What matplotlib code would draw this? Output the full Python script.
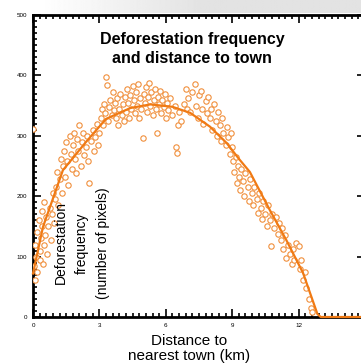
import numpy as np
import matplotlib
matplotlib.use("Agg")
import matplotlib.pyplot as plt
from matplotlib.ticker import MultipleLocator

# ---- data ----
pts_x = [0.0, 0.05, 0.1, 0.1, 0.15, 0.2, 0.2, 0.25, 0.3, 0.3, 0.35, 0.4, 0.4, 0.45, 0.5, 0.5, 0.55, 0.6, 0.65, 0.7,
         0.75, 0.8, 0.85, 0.9, 0.95, 1.0,
         1.05, 1.1, 1.15, 1.2, 1.25, 1.3, 1.35, 1.4, 1.45, 1.5, 1.55, 1.6, 1.65, 1.7, 1.75, 1.8, 1.85, 1.9, 1.95, 2.0,
         2.05, 2.1, 2.15, 2.2, 2.25, 2.3, 2.4, 2.45, 2.5, 2.55, 2.6, 2.7, 2.75, 2.8, 2.9, 2.95, 3.0,
         3.05, 3.1, 3.15, 3.2, 3.25, 3.3, 3.35, 3.4, 3.45, 3.5, 3.55, 3.6, 3.65, 3.7, 3.75, 3.8, 3.85, 3.9, 3.95, 4.0,
         4.05, 4.1, 4.15, 4.2, 4.25, 4.3, 4.35, 4.4, 4.45, 4.5, 4.55, 4.6, 4.65, 4.7, 4.75, 4.8, 4.85, 4.9, 4.95, 5.0,
         5.05, 5.1, 5.15, 5.2, 5.25, 5.3, 5.35, 5.4, 5.45, 5.5, 5.55, 5.6, 5.65, 5.7, 5.75, 5.8, 5.85, 5.9, 5.95, 6.0,
         6.05, 6.1, 6.2, 6.3, 6.4, 6.45, 6.5, 6.55, 6.6, 6.7, 6.8, 6.9, 6.95,
         7.0, 7.1, 7.2, 7.3, 7.35, 7.45, 7.5, 7.6, 7.65, 7.7, 7.8, 7.85, 7.9, 8.0, 8.05, 8.1, 8.2, 8.25, 8.3, 8.35,
         8.45, 8.5, 8.55, 8.6, 8.7, 8.75, 8.8, 8.9, 8.95, 9.0,
         9.05, 9.1, 9.15, 9.2, 9.25, 9.3, 9.35, 9.4, 9.5, 9.55, 9.6, 9.7, 9.75, 9.8, 9.9, 9.95, 10.0, 10.1, 10.15,
         10.2, 10.3, 10.35, 10.4, 10.5, 10.55, 10.6, 10.7, 10.75, 10.8, 10.9, 11.0,
         11.05, 11.1, 11.2, 11.25, 11.3, 11.4, 11.45, 11.5, 11.6, 11.7, 11.75, 11.8, 11.9, 12.0, 12.05, 12.1, 12.2,
         12.3, 12.35, 12.45, 12.55, 12.6]
pts_y = [312, 85, 120, 62, 100, 140, 75, 160, 110, 95, 130, 175, 150, 88, 120, 190, 135, 165, 105, 150,
         180, 128, 170, 205, 155, 195,
         215, 240, 185, 228, 262, 205, 250, 275, 232, 290, 258, 218, 300, 270, 245, 285, 305, 262, 238, 295,
         275, 318, 250, 290, 305, 268, 282, 300, 258, 222, 292, 310, 275, 298, 320, 285, 305,
         330, 345, 318, 352, 338, 398, 384, 325, 348, 360, 335, 372, 342, 355, 330, 362, 318, 345, 370, 335,
         352, 325, 364, 340, 378, 355, 330, 368, 345, 383, 360, 338, 372, 350, 385, 330, 362, 345, 296, 370,
         355, 380, 340, 365, 388, 350, 372, 335, 360, 378, 345, 305, 365, 352, 375, 338, 360, 348, 370, 330,
         355, 342, 362, 335, 350, 282, 272, 318, 340, 325, 352, 378, 345,
         362, 340, 372, 385, 350, 330, 368, 375, 345, 320, 358, 338, 365, 330, 345, 310, 352, 325, 300, 340,
         318, 292, 330, 305, 285, 315, 298, 270, 305, 282,
         258, 240, 265, 222, 250, 232, 210, 245, 225, 200, 238, 215, 192, 228, 205, 185, 215, 195, 172,
         205, 180, 162, 192, 170, 150, 185, 160, 118, 170, 148, 165,
         138, 155, 128, 148, 112, 135, 98, 120, 105, 88, 112, 95, 122, 118, 80, 95, 62,
         75, 48, 30, 15, 8]

fit_x = [0.0, 0.45, 1.35, 2.4, 3.3, 4.4, 5.3, 6.3, 7.1, 8.0, 8.75, 9.3, 9.8, 10.7, 11.45, 12.2, 12.85, 13.0, 15.0]
fit_y = [72, 149, 243, 290, 328, 346, 352, 348, 338, 315, 288, 262, 240, 177, 127, 73, 5, 0, 0]

x_ticks = [0, 3, 6, 9, 12]
y_ticks = [0, 100, 200, 300, 400, 500]

title = "Deforestation frequency\nand distance to town"
xlabel = "Distance to\nnearest town (km)"
ylabel = "Deforestation\nfrequency\n(number of pixels)"

# ---- figure ----
W, H = 361, 364
fig = plt.figure(figsize=(W / 100, H / 100), dpi=100, facecolor="white")

# gray gradient strip along the top
bg = fig.add_axes([0, 1 - 13 / H, 1, 13 / H])
grad = np.clip((np.linspace(0, W, 400) - 40) / 160, 0, 1)
img = 1 - 0.11 * grad
bg.imshow(np.tile(img, (10, 1)), cmap="gray", vmin=0, vmax=1, aspect="auto", extent=[0, 1, 0, 1])
bg.axis("off")

left, bottom = 33 / W, (H - 317) / H
ax = fig.add_axes([left, bottom, 332 / W, (317 - 15) / H])
ax.set_xlim(0, 15)
ax.set_ylim(0, 500)

orange = "#f07a14"
ax.scatter(pts_x, pts_y, s=15, facecolors="white", edgecolors="#f08f3c", linewidths=0.8, zorder=3, clip_on=True)
ax.plot(fit_x, fit_y, color=orange, lw=1.6, zorder=4, clip_on=False)

ax.set_xticks(x_ticks)
ax.set_yticks(y_ticks)
ax.xaxis.set_minor_locator(MultipleLocator(0.3))
ax.yaxis.set_minor_locator(MultipleLocator(10))
ax.tick_params(which="both", direction="in", top=True, right=True, width=1.2, colors="black")
ax.tick_params(which="major", length=6, labelsize=4.5, pad=4)
ax.tick_params(which="minor", length=3)
for lbl in ax.get_xticklabels() + ax.get_yticklabels():
    lbl.set_family("Liberation Sans")
for s in ax.spines.values():
    s.set_linewidth(2)

fig.text(192 / W, 1 - 32 / H, title, ha="center", va="top",
         fontsize=11.5, fontweight="bold", family="Liberation Sans", linespacing=1.3)
fig.text(189 / W, 1 - 334 / H, xlabel, ha="center", va="top", fontsize=11,
         family="Liberation Sans", linespacing=1.05)
fig.text(82 / W, 1 - 243 / H, ylabel, ha="center", va="center", rotation=90,
         fontsize=10, family="Liberation Sans", linespacing=1.65)

fig.savefig("out.png", dpi=100)
